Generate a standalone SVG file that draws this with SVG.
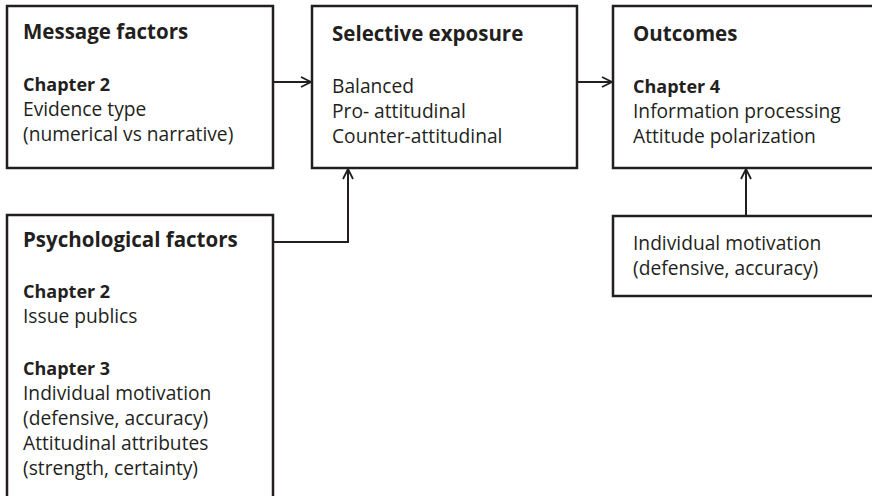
<svg xmlns="http://www.w3.org/2000/svg" width="872" height="496" viewBox="0 0 872 496">
<defs>
<marker id="arr" viewBox="0 0 12 12" refX="11" refY="6" markerWidth="12" markerHeight="12" markerUnits="userSpaceOnUse" orient="auto">
<path d="M1,1 L11,6 L1,11" fill="none" stroke="#231f20" stroke-width="1.8"/>
</marker>
<style>
.box{fill:#fff;stroke:#231f20;stroke-width:2.5}
.t{font-family:"Open Sans","Liberation Sans",sans-serif;font-size:19.2px;fill:#231f20}
.h{font-family:"Open Sans","Liberation Sans",sans-serif;font-size:20.5px;font-weight:bold;fill:#231f20}
.ch{font-family:"Open Sans","Liberation Sans",sans-serif;font-size:18px;font-weight:bold;fill:#231f20}
.c{fill:none;stroke:#231f20;stroke-width:2}
</style>
</defs>
<rect width="872" height="496" fill="#fff"/>
<g id="message">
<rect class="box" x="7" y="6" width="266" height="162"/>
<text class="h" x="23" y="39">Message factors</text>
<text class="ch" x="23" y="91">Chapter 2</text>
<text class="t" x="23" y="116">Evidence type</text>
<text class="t" x="23" y="141">(numerical vs narrative)</text>
</g>
<g id="selective">
<rect class="box" x="312" y="6" width="265" height="162"/>
<text class="h" x="332" y="41">Selective exposure</text>
<text class="t" x="332" y="93">Balanced</text>
<text class="t" x="332" y="118">Pro- attitudinal</text>
<text class="t" x="332" y="143">Counter-attitudinal</text>
</g>
<g id="outcomes">
<rect class="box" x="613" y="6" width="270" height="162"/>
<text class="h" x="633" y="41">Outcomes</text>
<text class="ch" x="633" y="93">Chapter 4</text>
<text class="t" x="633" y="118">Information processing</text>
<text class="t" x="633" y="143">Attitude polarization</text>
</g>
<g id="motivation">
<rect class="box" x="613" y="216" width="270" height="80"/>
<text class="t" x="633" y="250">Individual motivation</text>
<text class="t" x="633" y="275">(defensive, accuracy)</text>
</g>
<g id="psychological">
<rect class="box" x="7" y="215" width="266" height="300"/>
<text class="h" x="23" y="247">Psychological factors</text>
<text class="ch" x="23" y="298">Chapter 2</text>
<text class="t" x="23" y="323">Issue publics</text>
<text class="ch" x="23" y="375">Chapter 3</text>
<text class="t" x="23" y="400">Individual motivation</text>
<text class="t" x="23" y="425">(defensive, accuracy)</text>
<text class="t" x="23" y="450">Attitudinal attributes</text>
<text class="t" x="23" y="475">(strength, certainty)</text>
</g>
<g id="connectors">
<path class="c" d="M273,82 H311" marker-end="url(#arr)"/>
<path class="c" d="M577,82 H612" marker-end="url(#arr)"/>
<path class="c" d="M273,242 H348 V169" marker-end="url(#arr)"/>
<path class="c" d="M746,216 V169" marker-end="url(#arr)"/>
</g>
</svg>
